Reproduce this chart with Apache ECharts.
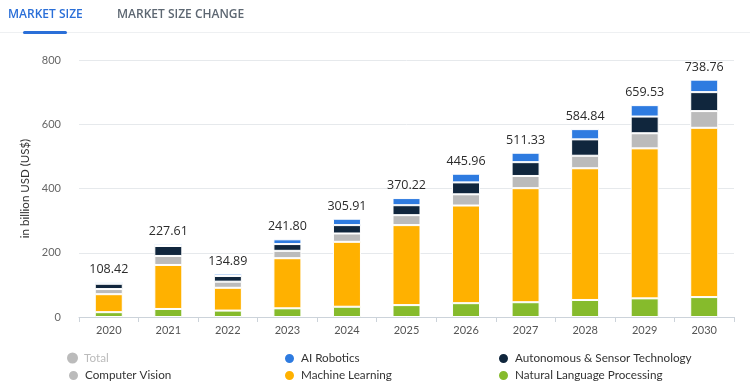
<!DOCTYPE html>
<html><head><meta charset="utf-8">
<script src="https://cdn.jsdelivr.net/npm/echarts@6/dist/echarts.min.js"></script>
<style>html,body{margin:0;padding:0;background:#fff;}#c{width:750px;height:390px;}</style>
</head><body><div id="c"></div>
<script>
const years = ['2020','2021','2022','2023','2024','2025','2026','2027','2028','2029','2030'];
const totals = [108.42,227.61,134.89,241.80,305.91,370.22,445.96,511.33,584.84,659.53,738.76];
const nlp = [15,25,20,27,32,37,43,46,53,58,62];
const machineLearning = [56,137,71,156,202,249,304,355,410,467,527];
const computerVision = [16,28,19,23,26,31,35,38,39,47,52];
const autonomous = [16.5,31,17.7,21,26,31,37,43,51,52,59];
const aiRobotics = [4.9,6.6,7.2,14.8,19.9,22.2,27,29.3,31.8,35.5,38.8];
const yTicks = [0,200,400,600,800];

const font = 'Lato, "Open Sans", sans-serif';
const chart = echarts.init(document.getElementById('c'));
const seg = (name, data, color) => ({
  name, type:'bar', stack:'s', data, barWidth:28,
  itemStyle:{color, borderColor:'#fff', borderWidth:1},
  emphasis:{disabled:true}
});
const topSeries = seg('AI Robotics', aiRobotics, '#2e7be0');
topSeries.label = {show:true, position:'top', distance:6, color:'#2b2b2b', fontSize:12.5, fontWeight:500, fontFamily:'"Open Sans", sans-serif',
  formatter: p => totals[p.dataIndex].toFixed(2)};
const lg = (name, left, top) => ({
  left, top, itemWidth:11, itemHeight:11, icon:'circle', padding:0, itemGap:0,
  textStyle:{fontSize:11.7, color:'#333', fontFamily:font, padding:[0,0,0,1]}, inactiveColor:'#bbb',
  data:[name], selected:{'Total':false}
});
chart.setOption({
  animation:false,
  grid:{left:79, right:16, top:60, bottom:73},
  xAxis:{type:'category', data:years,
    axisLine:{lineStyle:{color:'#ccd3da'}},
    axisTick:{show:true, length:5, lineStyle:{color:'#ccd3da'}},
    axisLabel:{color:'#555', fontSize:11, fontFamily:font, margin:8}},
  yAxis:{type:'value', min:yTicks[0], max:yTicks[yTicks.length-1], interval:200,
    name:'in billion USD (US$)', nameLocation:'middle', nameGap:37, nameRotate:90,
    nameTextStyle:{color:'#333', fontSize:11.5, fontFamily:font},
    axisLabel:{color:'#666', fontSize:11, fontFamily:font, margin:18},
    splitLine:{lineStyle:{color:'#e6e9ec'}}},
  legend:[
    lg('Total', 67, 352), lg('Computer Vision', 67, 369),
    lg('AI Robotics', 283, 352), lg('Machine Learning', 283, 369),
    lg('Autonomous & Sensor Technology', 497, 352), lg('Natural Language Processing', 497, 369)
  ],
  series:[
    seg('Natural Language Processing', nlp, '#86bb2c'),
    seg('Machine Learning', machineLearning, '#ffb100'),
    seg('Computer Vision', computerVision, '#bbbbbb'),
    seg('Autonomous & Sensor Technology', autonomous, '#10263d'),
    topSeries,
    {name:'Total', type:'line', data:totals, itemStyle:{color:'#bbbbbb'}, lineStyle:{opacity:0}, symbol:'none'}
  ],
  graphic:[
    {type:'text', left:8, top:9, style:{text:'MARKET SIZE', fill:'#2a6fd8', font:'600 12px "Open Sans", sans-serif'}},
    {type:'text', left:117, top:9, style:{text:'MARKET SIZE CHANGE', fill:'#5d6772', font:'600 12px "Open Sans", sans-serif'}},
    {type:'rect', shape:{x:0, y:32, width:750, height:1}, style:{fill:'#eef0f2'}},
    {type:'rect', shape:{x:23, y:31, width:44, height:3, r:1.5}, style:{fill:'#2a6fd8'}}
  ]
});
</script></body></html>
